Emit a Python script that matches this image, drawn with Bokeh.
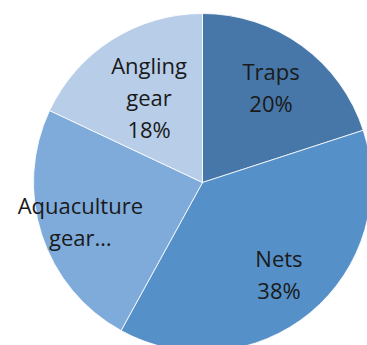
import numpy as np
from bokeh.plotting import figure
from bokeh.models import ColumnDataSource
from bokeh.core.properties import value
from bokeh.embed import file_html
from bokeh.resources import INLINE

categories = ["Traps", "Nets", "Aquaculture gear", "Angling gear"]
shares = [20, 38, 24, 18]
label_lines = [["Traps", "20%"], ["Nets", "38%"], ["Aquaculture", "gear…"], ["Angling", "gear", "18%"]]
colors = ["#4677A8", "#5590C8", "#7FABDB", "#B7CDE8"]
label_radius = [0.69, 0.71, 0.76, 0.59]

W, H = 367, 345
cx, cy, R = 202, 163, 169

vals = np.array(shares, dtype=float)
frac = vals / vals.sum()
ends = np.pi / 2 - 2 * np.pi * np.cumsum(frac)
starts = np.concatenate([[np.pi / 2], ends[:-1]])
mids = (starts + ends) / 2

p = figure(width=W, height=H, x_range=(0, W), y_range=(0, H),
           output_backend="svg", toolbar_location=None, min_border=0)
p.axis.visible = False
p.grid.visible = False
p.outline_line_color = None
p.background_fill_color = "white"

src = ColumnDataSource(dict(start=starts, end=ends, color=colors, cat=categories))
p.wedge(x=cx, y=cy, radius=R, start_angle="start", end_angle="end", direction="clock",
        fill_color="color", line_color="white", line_width=0.8, source=src)

tx, ty, tt = [], [], []
gap = 32
for lines, m, rf in zip(label_lines, mids, label_radius):
    x0 = cx + rf * R * np.cos(m)
    y0 = cy + rf * R * np.sin(m) + 1
    n = len(lines)
    for i, t in enumerate(lines):
        tx.append(x0)
        ty.append(y0 + (n - 1) / 2 * gap - i * gap)
        tt.append(t)

p.text(x=tx, y=ty, text=tt, text_align="center", text_baseline="middle",
       text_font=value("Open Sans"), text_font_size="22px", text_color="#1a1a1a")

open("out.html", "w").write(file_html(p, INLINE))
